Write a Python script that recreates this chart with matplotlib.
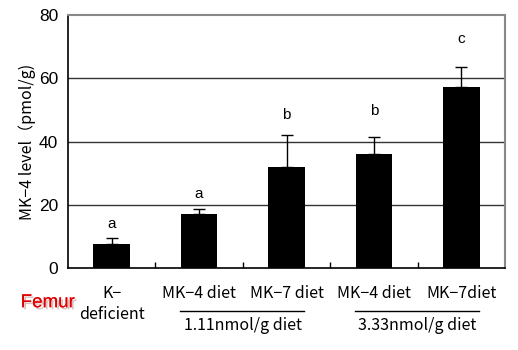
import matplotlib.pyplot as plt
import matplotlib.patheffects as pe

groups = ['K−\ndeficient', 'MK−4 diet', 'MK−7 diet', 'MK−4 diet', 'MK−7diet']
means = [7.6, 17.2, 32.0, 36.2, 57.3]
errs = [2.0, 1.5, 10.2, 5.3, 6.3]
letters = ['a', 'a', 'b', 'b', 'c']
letter_y = [14.0, 23.4, 48.3, 49.7, 72.3]
doses = ['1.11nmol/g diet', '3.33nmol/g diet']

jp = ['Noto Sans CJK JP', 'DejaVu Sans']
plt.rcParams['font.family'] = ['Liberation Sans', 'DejaVu Sans']

fig = plt.figure(figsize=(5.18, 3.5), dpi=100)
ax = fig.add_axes([0.1313, 0.2343, 0.8437, 0.7227])
x = list(range(len(means)))
ax.bar(x, means, width=0.42, color='black', zorder=3)
ax.errorbar(x, means, yerr=[[0] * len(errs), errs], fmt='none', ecolor='black',
            elinewidth=1.0, capsize=4, capthick=1.0, zorder=3)
for xi, l, ly in zip(x, letters, letter_y):
    ax.text(xi, ly, l, ha='center', va='center', fontsize=11)

ax.set_xlim(-0.5, 4.5)
ax.set_ylim(0, 80)
ax.set_yticks([0, 20, 40, 60, 80])
ax.tick_params(axis='y', labelsize=12.5, length=0, pad=7)
ax.set_xticks([0.5, 1.5, 2.5, 3.5])
ax.set_xticklabels([])
ax.tick_params(axis='x', direction='in', length=4, width=1)
for v in [20, 40, 60]:
    ax.axhline(v, color='#333333', lw=1.0, zorder=1)
for s in ['top', 'right']:
    ax.spines[s].set_color('#888888')
    ax.spines[s].set_linewidth(1.5)
ax.spines['left'].set_linewidth(1.2)
ax.spines['bottom'].set_linewidth(1.2)
ax.set_ylabel('MK−4 level（pmol/g)', fontsize=11.5, family=jp, labelpad=2)

for xi, g in zip(x, groups):
    ax.text(xi, -5.5, g, ha='center', va='top', fontsize=11.5, family=jp,
            clip_on=False, linespacing=1.3)
for (a, b), d in zip([(1, 2), (3, 4)], doses):
    ax.plot([a - 0.22, b + 0.2], [-13.5, -13.5], color='black', lw=1, clip_on=False)
    ax.text((a + b) / 2, -15.5, d, ha='center', va='top', fontsize=11.5, family=jp,
            clip_on=False)

fig.text(0.092, 0.135, 'Femur', color='#e00000', fontsize=13.5, ha='center', va='center',
         path_effects=[pe.withSimplePatchShadow(offset=(1.5, -1.5), shadow_rgbFace='#d0b0b0', alpha=0.8),
                       pe.Normal()])

fig.savefig('out.png', dpi=100)
